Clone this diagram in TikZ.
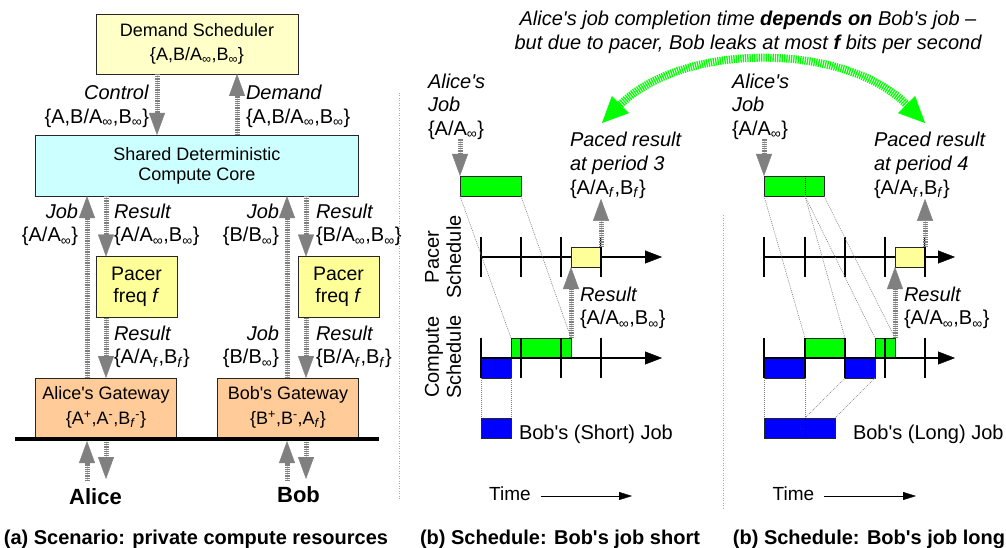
\documentclass[tikz,border=0pt]{standalone}
\usepackage{fontspec}
\setmainfont{Liberation Sans}[Ligatures=TeXOff]
\usetikzlibrary{arrows.meta}
\definecolor{dsy}{RGB}{255,255,200}
\definecolor{pacy}{RGB}{255,255,153}
\definecolor{corec}{RGB}{204,255,255}
\definecolor{gwo}{RGB}{255,204,153}
\definecolor{arrg}{RGB}{128,128,128}
\definecolor{brg}{RGB}{0,255,0}
\definecolor{bblue}{RGB}{0,0,255}
\newcommand\infsub{\textsubscript{∞}}
\newcommand\fsub{\textsubscript{\textit{f}}}
\begin{document}
\begin{tikzpicture}[x=1pt,y=-1pt,
  box/.style={draw=black!85, line width=0.9pt, inner sep=0pt, outer sep=0pt, align=center},
  lab/.style={inner sep=0pt, outer sep=0pt, font=\fontsize{20}{24}\selectfont},
  lab2/.style={inner sep=0pt, outer sep=0pt, font=\fontsize{20}{23.5}\selectfont},
  garrow/.style={draw=arrg, line width=5pt, dash pattern=on 1.2pt off 1pt,
    -{Triangle[width=16pt,length=22pt,line width=0.4pt]},
    preaction={draw=arrg!40, solid, -, shorten >=12pt}},
  greenarc/.style={draw=brg, line width=8pt, dash pattern=on 1.3pt off 1pt,
    {Triangle[width=24pt,length=26pt,line width=0.4pt]}-{Triangle[width=24pt,length=26pt,line width=0.4pt]}},
  tbox/.style={draw=black!85, line width=0.9pt, inner sep=0pt, outer sep=0pt, minimum height=20pt},
  axisline/.style={line width=1.5pt, -{Triangle[width=13pt,length=17pt,line width=0.4pt]}},
  tk/.style={line width=1.5pt},
  dline/.style={draw=gray, line width=0.6pt, dash pattern=on 1pt off 1pt},
  divline/.style={draw=black, line width=0.7pt, dash pattern=on 1pt off 1pt},
  sepline/.style={draw=gray!70, line width=0.6pt, dash pattern=on 1pt off 1.5pt},
  timearrow/.style={line width=1pt, -{Triangle[width=8pt,length=13pt,line width=0.4pt]}},
  capt/.style={inner sep=0pt, font=\bfseries\fontsize{20}{24}\selectfont}
]
\useasboundingbox (0,0) rectangle (1006,548);
\fill[white] (0,0) rectangle (1006,548);

% ---------------- (a) scenario ----------------
\node[box, fill=dsy, minimum width=202pt, minimum height=60pt, font=\fontsize{18}{24}\selectfont] (ds) at (197,44)
  {Demand Scheduler\\\{A,B/A\infsub,B\infsub\}};
\node[box, fill=corec, minimum width=323pt, minimum height=61pt, font=\fontsize{18}{20}\selectfont] (core) at (197,165.5)
  {Shared Deterministic\\Compute Core};
\node[box, fill=pacy, minimum width=81pt, minimum height=61pt, font=\fontsize{19.5}{22}\selectfont] (pA) at (136.5,287)
  {Pacer\\freq \textit{f}};
\node[box, fill=pacy, minimum width=81pt, minimum height=61pt, font=\fontsize{19.5}{22}\selectfont] (pB) at (338.5,287)
  {Pacer\\freq \textit{f}};
\node[box, fill=gwo, minimum width=141pt, minimum height=59pt, font=\fontsize{18}{25}\selectfont] (gA) at (106,407.5)
  {Alice's Gateway\\\{A\textsuperscript{+},A\textsuperscript{-},B\textsubscript{\textit{f}}\textsuperscript{-}\}};
\node[box, fill=gwo, minimum width=141pt, minimum height=59pt, font=\fontsize{18}{25}\selectfont] (gB) at (288,407.5)
  {Bob's Gateway\\\{B\textsuperscript{+},B\textsuperscript{-},A\fsub\}};

\coordinate (busL) at (15,439);
\coordinate (busR) at (379,439);
\draw[line width=4pt] (busL) -- (busR);

\draw[garrow] ([xshift=-40pt]ds.south) -- ([xshift=-40pt]core.north);
\draw[garrow] ([xshift=40pt]core.north) -- ([xshift=40pt]ds.south);
\draw[garrow] ([xshift=-19pt]gA.north) -- ([xshift=-110pt]core.south);
\draw[garrow] ([xshift=-91pt]core.south) -- ([xshift=-30.5pt]pA.north);
\draw[garrow] ([xshift=-30.5pt]pA.south) -- (gA.north);
\draw[garrow] ([xshift=-1pt]gB.north) -- ([xshift=90pt]core.south);
\draw[garrow] ([xshift=109pt]core.south) -- ([xshift=-32.5pt]pB.north);
\draw[garrow] ([xshift=-32.5pt]pB.south) -- ([xshift=18pt]gB.north);

\coordinate (au0) at (87,481);  \coordinate (au1) at (87,441);
\coordinate (ad0) at (106,442); \coordinate (ad1) at (106,479);
\coordinate (bu0) at (287,481); \coordinate (bu1) at (287,441);
\coordinate (bd0) at (306,442); \coordinate (bd1) at (306,479);
\draw[garrow] (au0) -- (au1);
\draw[garrow] (ad0) -- (ad1);
\draw[garrow] (bu0) -- (bu1);
\draw[garrow] (bd0) -- (bd1);

\node[lab, anchor=east, align=right] (lc) at (149,106) {\textit{Control}\\\{A,B/A\infsub,B\infsub\}};
\node[lab, anchor=west, align=left] (ld) at (246,106) {\textit{Demand}\\\{A,B/A\infsub,B\infsub\}};
\node[lab2, anchor=east, align=right] (lj1) at (78,225) {\textit{Job}\\\{A/A\infsub\}};
\node[lab2, anchor=west, align=left] (lr1) at (114,225) {\textit{Result}\\\{A/A\infsub,B\infsub\}};
\node[lab2, anchor=east, align=right] (lj2) at (279,225) {\textit{Job}\\\{B/B\infsub\}};
\node[lab2, anchor=west, align=left] (lr2) at (316,225) {\textit{Result}\\\{B/A\infsub,B\infsub\}};
\node[lab2, anchor=west, align=left] (lr3) at (114,347) {\textit{Result}\\\{A/A\fsub,B\fsub\}};
\node[lab2, anchor=east, align=right] (lj4) at (279,347) {\textit{Job}\\\{B/B\infsub\}};
\node[lab2, anchor=west, align=left] (lr4) at (316,347) {\textit{Result}\\\{B/A\fsub,B\fsub\}};

\node[inner sep=0pt, font=\bfseries\fontsize{22}{26}\selectfont] (alice) at (95.5,497) {Alice};
\node[inner sep=0pt, font=\bfseries\fontsize{22}{26}\selectfont] (bob) at (298.5,495) {Bob};
\node[capt] (capa) at (196,539) {(a) Scenario: private compute resources};

% separators
\draw[sepline] (399,93) -- (399,500);
\draw[sepline] (723,215) -- (723,508);

% header and arc
\node[lab, align=center, font=\itshape\fontsize{20}{24}\selectfont] (hdr) at (748,32)
  {Alice's job completion time \textbf{depends on} Bob's job –\\but due to pacer, Bob leaks at most \textbf{f} bits per second};
\coordinate (gal) at (602,123);
\coordinate (gar) at (925,123);
\draw[greenarc] (gal) .. controls (683,42) and (844,42) .. (gar);

% ---------------- (b) short ----------------
\node[lab2, anchor=west, align=left] (ajm) at (428,106.5) {\textit{Alice's}\\\textit{Job}\\\{A/A\infsub\}};
\node[tbox, fill=brg, minimum width=61pt] (agm) at (490.5,186) {};
\draw[garrow] (ajm.south -| agm.north west) -- (agm.north west);

\node[lab, rotate=90, align=center, font=\fontsize{20}{22}\selectfont] (lps) at (443,257) {Pacer\\Schedule};
\node[lab, rotate=90, align=center, font=\fontsize{20}{22}\selectfont] (lcs) at (443,357) {Compute\\Schedule};

\draw[axisline] (481,257) -- (662,257);
\node[tbox, fill=pacy, minimum width=30pt] (ym) at (586,257) {};
\foreach \x in {481,521,561,601} \draw[tk] (\x,237) -- (\x,277);
\node[lab, anchor=west, align=left] (prm) at (570,165.5) {\textit{Paced result}\\\textit{at period 3}\\\{A/A\fsub,B\fsub\}};
\draw[garrow] (ym.north east) -- (ym.north east |- prm.south);

\node[tbox, fill=brg, minimum width=60pt] (cgm) at (541,348) {};
\node[tbox, fill=bblue, minimum width=30pt] (cbm) at (496,368) {};
\draw[axisline] (481,358) -- (662,358);
\foreach \x in {481,521,561,601} \draw[tk] (\x,338) -- (\x,378);
\node[lab2, anchor=west, align=left] (rrm) at (580,308) {\textit{Result}\\\{A/A\infsub,B\infsub\}};
\draw[garrow] (cgm.north east) -- (ym.south west);

\node[tbox, fill=bblue, minimum width=30pt] (bjm) at (496,428) {};
\node[lab, anchor=west] (bjml) at (519,434) {Bob's (Short) Job};

\draw[dline] (agm.south west) -- (cgm.north west);
\draw[dline] (agm.south east) -- (cgm.north east);
\draw[dline] (cbm.south west) -- (bjm.north west);
\draw[dline] (cbm.south east) -- (bjm.north east);

\node[inner sep=0pt, anchor=west, font=\fontsize{19}{22}\selectfont] (tmm) at (489,494) {Time};
\coordinate (tmme) at (632,496);
\draw[timearrow] ([xshift=10pt,yshift=-2pt]tmm.east) -- (tmme);
\node[capt] (capb) at (560,539) {(b) Schedule: Bob's job short};

% ---------------- (b) long ----------------
\node[lab2, anchor=west, align=left] (ajr) at (732,106.5) {\textit{Alice's}\\\textit{Job}\\\{A/A\infsub\}};
\node[tbox, fill=brg, minimum width=60pt] (agr) at (794,186) {};
\draw[divline] ([xshift=41pt]agr.north west) -- ([xshift=41pt]agr.south west);
\draw[garrow] (ajr.south -| agr.north west) -- (agr.north west);

\draw[axisline] (764,257) -- (955,257);
\node[tbox, fill=pacy, minimum width=30pt] (yr) at (910,257) {};
\foreach \x in {764,805,845,885,925} \draw[tk] (\x,237) -- (\x,277);
\node[lab, anchor=west, align=left] (prr) at (874,165.5) {\textit{Paced result}\\\textit{at period 4}\\\{A/A\fsub,B\fsub\}};
\draw[garrow] (yr.north east) -- (yr.north east |- prr.south);

\node[tbox, fill=brg, minimum width=40pt] (cgr1) at (825,348) {};
\node[tbox, fill=brg, minimum width=20pt] (cgr2) at (885,348) {};
\node[tbox, fill=bblue, minimum width=41pt] (cbr1) at (784.5,368) {};
\node[tbox, fill=bblue, minimum width=30pt] (cbr2) at (860,368) {};
\draw[axisline] (764,358) -- (955,358);
\foreach \x in {764,805,845,885,925} \draw[tk] (\x,338) -- (\x,378);
\node[lab2, anchor=west, align=left] (rrr) at (904,308) {\textit{Result}\\\{A/A\infsub,B\infsub\}};
\draw[garrow] (cgr2.north east) -- (yr.south west);

\node[tbox, fill=bblue, minimum width=71pt] (bjr) at (799.5,428) {};
\draw[divline] ([xshift=41pt]bjr.north west) -- ([xshift=41pt]bjr.south west);
\node[lab, anchor=west] (bjrl) at (853,434) {Bob's (Long) Job};

\draw[dline] (agr.south west) -- (cgr1.north west);
\draw[dline] ([xshift=41pt]agr.south west) -- (cgr1.north east);
\draw[dline] ([xshift=41pt]agr.south west) -- (cgr2.north west);
\draw[dline] (agr.south east) -- (cgr2.north east);
\draw[dline] (cbr1.south west) -- (bjr.north west);
\draw[dline] (cbr1.south east) -- ([xshift=41pt]bjr.north west);
\draw[dline] (cbr2.south west) -- ([xshift=41pt]bjr.north west);
\draw[dline] (cbr2.south east) -- (bjr.north east);

\node[inner sep=0pt, anchor=west, font=\fontsize{19}{22}\selectfont] (tmr) at (772.5,494) {Time};
\coordinate (tmre) at (916,496);
\draw[timearrow] ([xshift=10pt,yshift=-2pt]tmr.east) -- (tmre);
\node[capt] (capc) at (869,539) {(b) Schedule: Bob's job long};
\end{tikzpicture}
\end{document}
